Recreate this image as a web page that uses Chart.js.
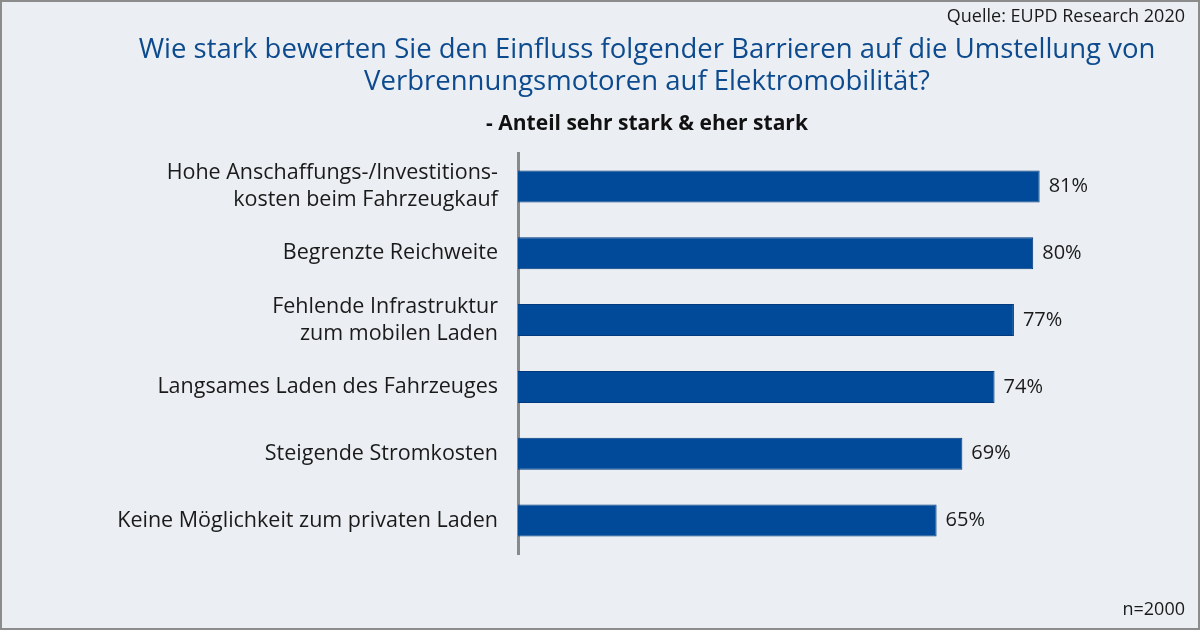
<!DOCTYPE html>
<html>
<head>
<meta charset="utf-8">
<script src="https://cdn.jsdelivr.net/npm/chart.js@4"></script>
<style>
  html, body { margin: 0; padding: 0; background: #ebeff3; }
  #wrap { position: relative; width: 1200px; height: 630px; }
  canvas { position: absolute; left: 0; top: 0; }
  .note { position: absolute; font-family: "Open Sans", sans-serif; color: #1a1a1a; font-size: 18px; line-height: 24px; white-space: nowrap; }
  #src { right: 15px; top: 3px; }
  #n { right: 15px; top: 596px; }
</style>
</head>
<body>
<div id="wrap">
  <canvas id="c" width="1200" height="630"></canvas>
  <div class="note" id="src">Quelle: EUPD Research 2020</div>
  <div class="note" id="n">n=2000</div>
</div>
<script>
const categories = [
  ["Hohe Anschaffungs-/Investitions-", "kosten beim Fahrzeugkauf"],
  "Begrenzte Reichweite",
  ["Fehlende Infrastruktur", "zum mobilen Laden"],
  "Langsames Laden des Fahrzeuges",
  "Steigende Stromkosten",
  "Keine Möglichkeit zum privaten Laden"
];
const values = [81, 80, 77, 74, 69, 65];
const titleLines = [
  "Wie stark bewerten Sie den Einfluss folgender Barrieren auf die Umstellung von",
  "Verbrennungsmotoren auf Elektromobilität?"
];
const subtitleText = "- Anteil sehr stark & eher stark";

const FONT = "'Open Sans', sans-serif";

const bgPlugin = {
  id: 'bg',
  beforeDraw(chart) {
    const ctx = chart.ctx;
    ctx.save();
    ctx.fillStyle = '#ebeff3';
    ctx.fillRect(0, 0, chart.width, chart.height);
    ctx.strokeStyle = '#8c8c8c';
    ctx.lineWidth = 2;
    ctx.strokeRect(1, 1, chart.width - 2, chart.height - 2);
    ctx.restore();
  }
};

// shift the title/subtitle blocks so they are centred like the original
const shiftTitles = {
  id: 'shiftTitles',
  afterLayout(chart) {
    const dx = 66;
    chart.boxes.forEach(b => {
      if (b.options && (b.options.text === subtitleText || b.options.text === titleLines)) {
        b.left += dx;
        b.right += dx;
      }
    });
  }
};

const valueLabels = {
  id: 'valueLabels',
  afterDatasetsDraw(chart) {
    const ctx = chart.ctx;
    const meta = chart.getDatasetMeta(0);
    ctx.save();
    ctx.font = "20px " + FONT;
    ctx.fillStyle = '#1a1a1a';
    ctx.textAlign = 'left';
    ctx.textBaseline = 'middle';
    meta.data.forEach((bar, i) => {
      ctx.fillText(values[i] + '%', bar.x + 9, bar.y);
    });
    ctx.restore();
  }
};

new Chart(document.getElementById('c'), {
  type: 'bar',
  data: {
    labels: categories,
    datasets: [{
      data: values,
      backgroundColor: '#004a99',
      borderColor: '#003a7c',
      borderWidth: 1,
      borderSkipped: 'start',
      barPercentage: 0.96,
      categoryPercentage: 0.5
    }]
  },
  plugins: [bgPlugin, shiftTitles, valueLabels],
  options: {
    indexAxis: 'y',
    responsive: false,
    animation: false,
    layout: { padding: { left: 0, right: 38, top: 0, bottom: 76 } },
    plugins: {
      legend: { display: false },
      tooltip: { enabled: false },
      title: {
        display: true,
        text: titleLines,
        color: '#0d4b8e',
        font: { family: FONT, size: 27.5, weight: 'normal', lineHeight: 1.16 },
        padding: { top: 34, bottom: 14 }
      },
      subtitle: {
        display: true,
        text: subtitleText,
        color: '#111',
        font: { family: FONT, size: 21, weight: 'bold', lineHeight: 1.2 },
        padding: { top: 0, bottom: 16 }
      }
    },
    scales: {
      x: {
        display: false,
        min: 0,
        max: 100
      },
      y: {
        grid: { display: false, drawTicks: false },
        border: { display: true, color: '#8a8a8a', width: 3 },
        ticks: {
          color: '#1a1a1a',
          font: { family: FONT, size: 21.5, lineHeight: 1.26 },
          padding: 20
        },
        afterFit(scale) { scale.width = 518; }
      }
    }
  }
});
</script>
</body>
</html>
